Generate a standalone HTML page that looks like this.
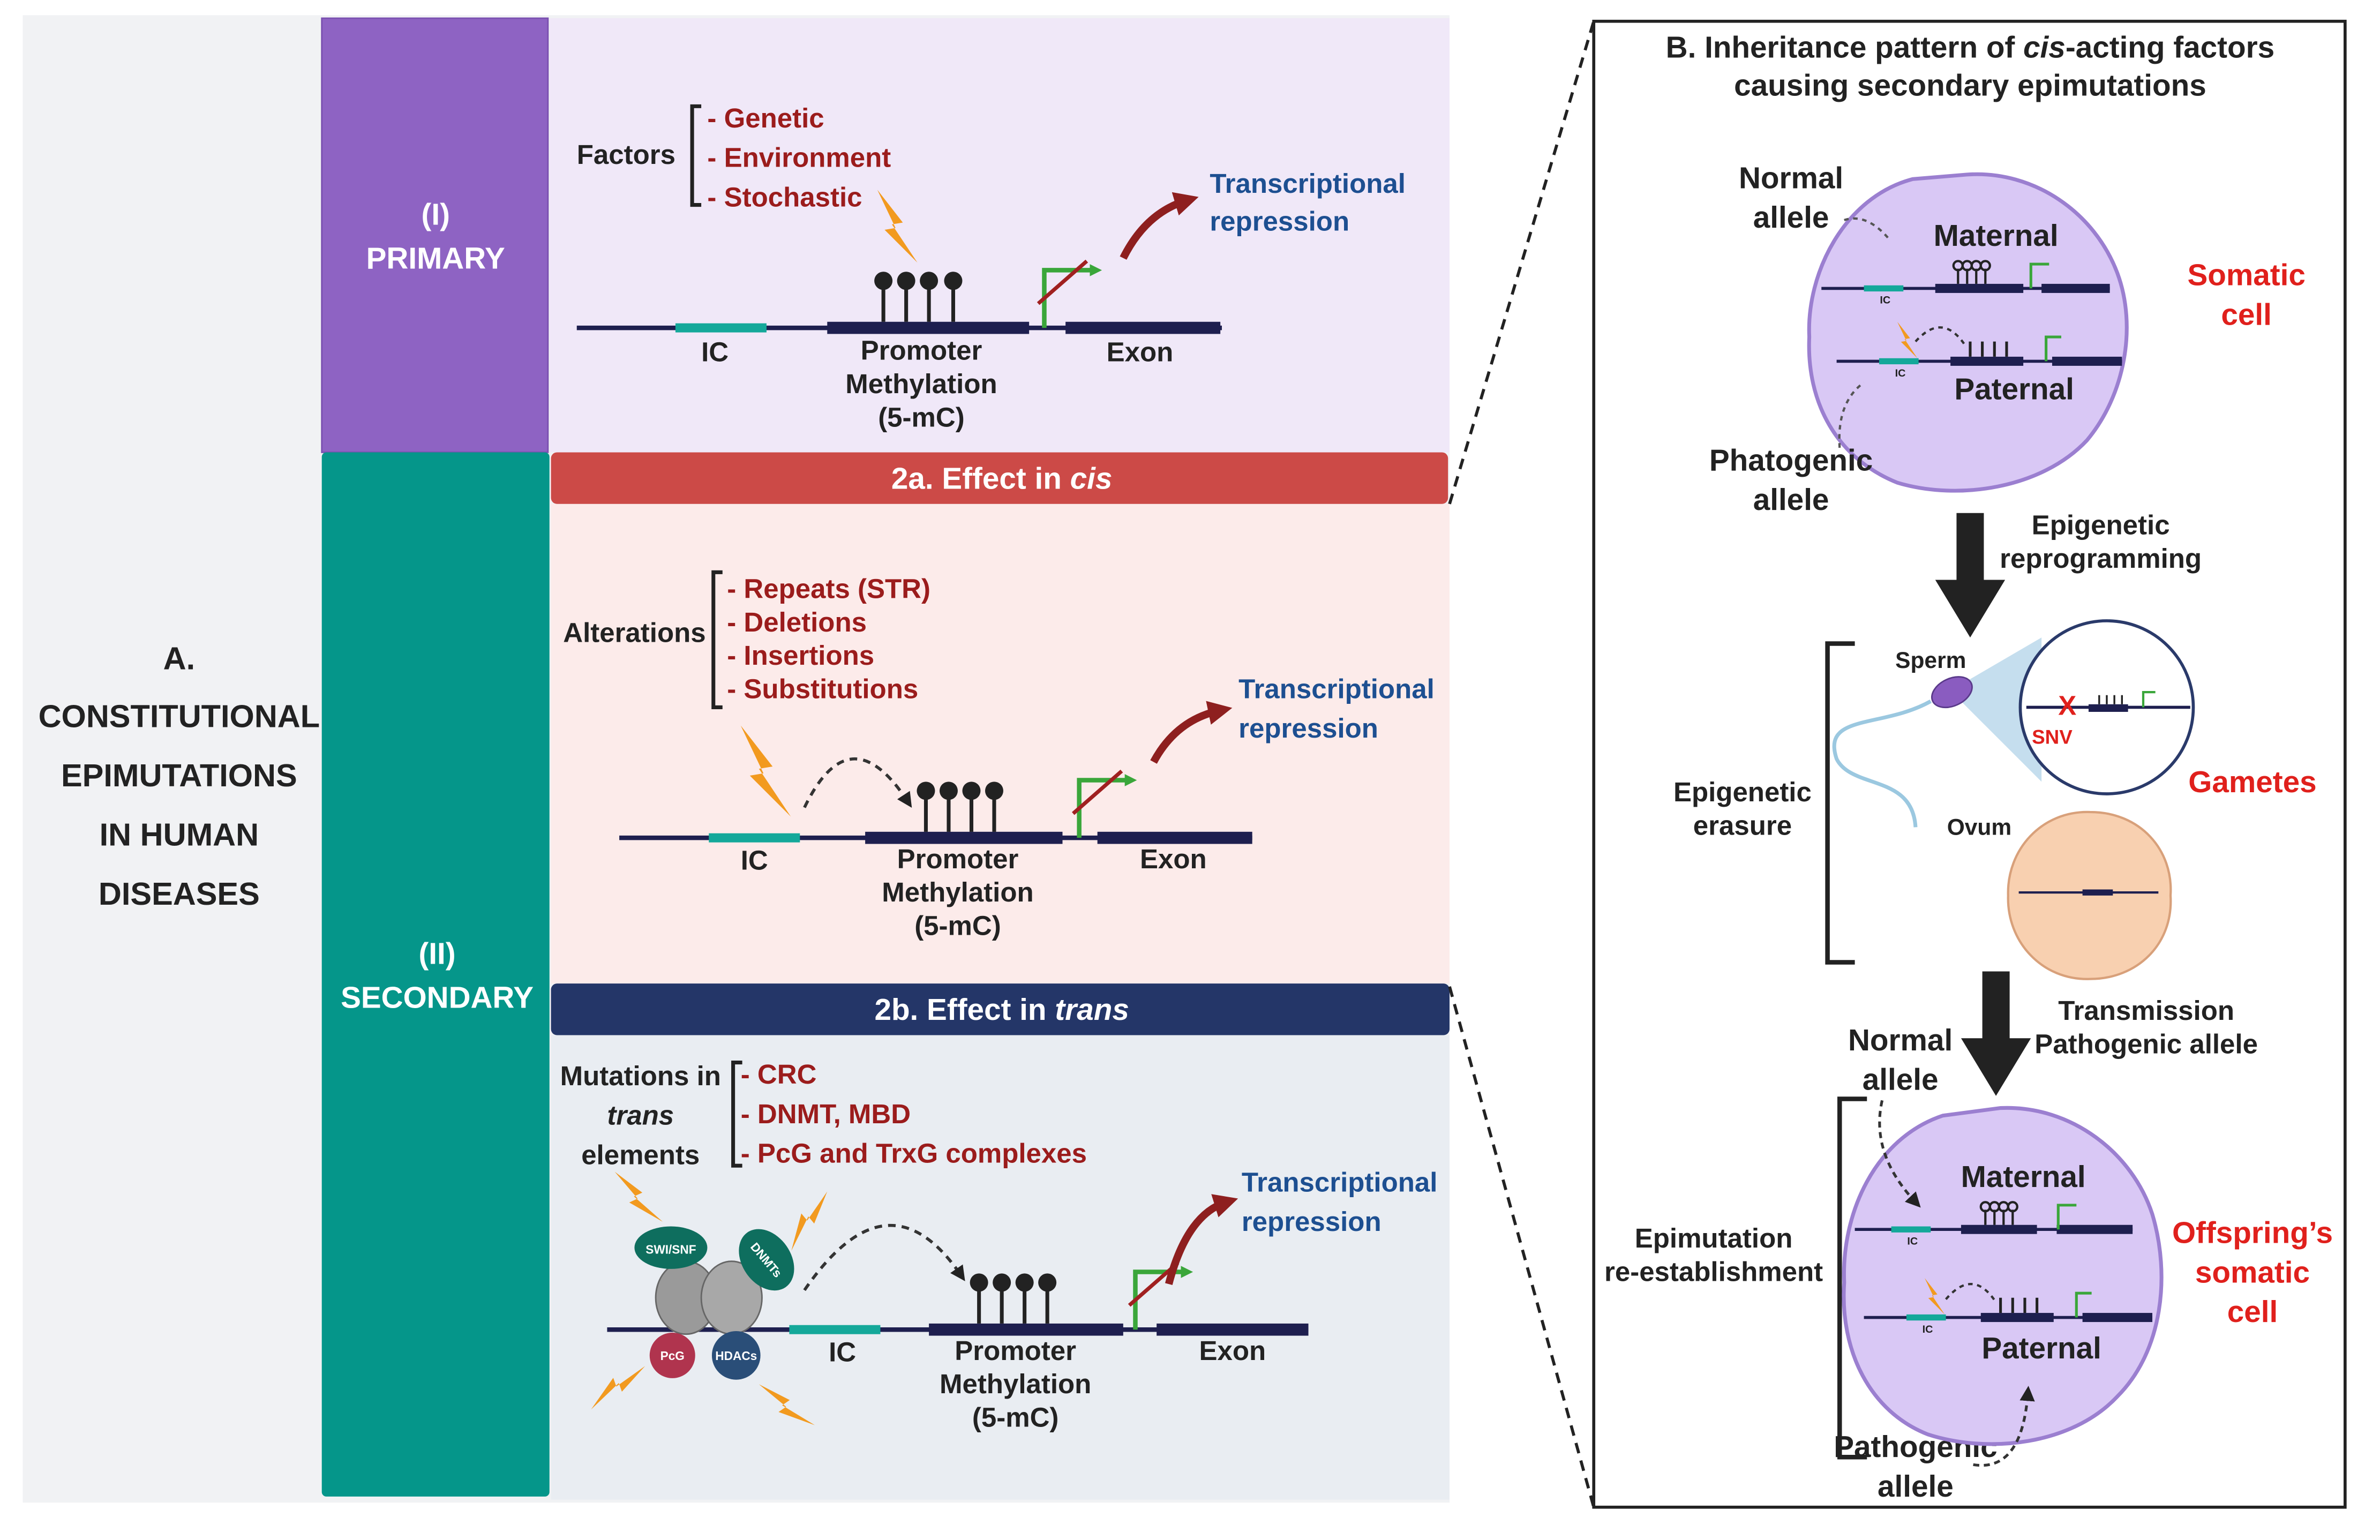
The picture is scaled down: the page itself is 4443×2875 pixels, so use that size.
<!DOCTYPE html>
<html><head><meta charset="utf-8"><style>
html,body{margin:0;padding:0;background:#fff;}
svg{display:block;}
text{font-family:"Liberation Sans",Arial,sans-serif;font-weight:bold;}
</style></head><body>
<svg width="4443" height="2875" viewBox="0 0 1568 1014.6" xmlns="http://www.w3.org/2000/svg">
<defs>
<marker id="ga" markerWidth="8" markerHeight="8" refX="4" refY="4" orient="auto" markerUnits="userSpaceOnUse"><path d="M0,0 L8,4 L0,8z" fill="#3aa63a"/></marker>
<marker id="ra" markerWidth="16" markerHeight="16" refX="8" refY="8" orient="auto" markerUnits="userSpaceOnUse"><path d="M0,0 L16,8 L0,16z" fill="#8e1f1f"/></marker>
<marker id="ka" markerWidth="10" markerHeight="10" refX="5" refY="5" orient="auto" markerUnits="userSpaceOnUse"><path d="M0,0 L10,5 L0,10z" fill="#222"/></marker>
<g id="bolt"><path d="M0,0 L14,18 L8,19 L22,40 L4,22 L10,21 Z" fill="#f29a1f"/></g>
<g id="lol"><line x1="0" y1="0" x2="0" y2="-24" stroke="#222" stroke-width="2.5"/><circle cx="0" cy="-27" r="6" fill="#222"/></g>
</defs>
<rect x="0" y="0" width="1570" height="1020" fill="#fff"/>
<rect x="15" y="10" width="940" height="980" fill="#f1f2f4"/>
<rect x="212" y="12" width="149" height="286" fill="#8e63c3" stroke="#7a50b0"/>
<rect x="212" y="298" width="150" height="688" fill="#05968a" rx="3"/>
<rect x="362" y="12" width="593" height="286" fill="#f0e8f8"/>
<rect x="363" y="332" width="592" height="316" fill="#fcebea"/>
<rect x="363" y="682" width="592" height="306" fill="#e9edf2"/>
<rect x="363" y="298" width="591" height="34" fill="#cc4a47" rx="4"/>
<rect x="363" y="648" width="592" height="34" fill="#243668" rx="4"/>
<text x="660" y="322" fill="#fff" font-size="20" text-anchor="middle">2a. Effect in <tspan font-style="italic">cis</tspan></text>
<text x="660" y="672" fill="#fff" font-size="20" text-anchor="middle">2b. Effect in <tspan font-style="italic">trans</tspan></text>
<g fill="#fff" font-size="20" text-anchor="middle">
<text x="287" y="148">(I)</text><text x="287" y="177">PRIMARY</text>
<text x="288" y="635">(II)</text><text x="288" y="664">SECONDARY</text>
</g>
<g fill="#222" font-size="21" text-anchor="middle">
<text x="118" y="441">A.</text><text x="118" y="479">CONSTITUTIONAL</text><text x="118" y="518">EPIMUTATIONS</text><text x="118" y="557">IN HUMAN</text><text x="118" y="596">DISEASES</text>
</g>
<text x="380" y="108" font-size="18" fill="#222">Factors</text>
<path d="M462,70 H456 V135 H462" fill="none" stroke="#222" stroke-width="2.5"/>
<g fill="#9b1c1c" font-size="18"><text x="466" y="84">- Genetic</text><text x="466" y="110">- Environment</text><text x="466" y="136">- Stochastic</text></g>
<use href="#bolt" transform="translate(578,125) scale(1.2)"/>
<line x1="380" y1="216" x2="805" y2="216" stroke="#1e1f4f" stroke-width="3"/>
<rect x="445" y="213" width="60" height="6" fill="#14a89a"/>
<rect x="545" y="212" width="133" height="8" fill="#1e1f4f"/>
<rect x="702" y="212" width="102" height="8" fill="#1e1f4f"/>
<use href="#lol" transform="translate(582,212)"/><use href="#lol" transform="translate(597,212)"/><use href="#lol" transform="translate(612,212)"/><use href="#lol" transform="translate(628,212)"/>
<path d="M688,216 V178 H722" fill="none" stroke="#3aa63a" stroke-width="3" marker-end="url(#ga)"/>
<line x1="684" y1="200" x2="716" y2="172" stroke="#a02020" stroke-width="2.5"/>
<path d="M740,170 Q755,140 782,132" fill="none" stroke="#8e1f1f" stroke-width="5" marker-end="url(#ra)"/>
<g fill="#1d4f91" font-size="18"><text x="797" y="127">Transcriptional</text><text x="797" y="152">repression</text></g>
<g fill="#222" font-size="18" text-anchor="middle"><text x="471" y="238">IC</text><text x="607" y="237">Promoter</text><text x="607" y="259">Methylation</text><text x="607" y="281">(5-mC)</text><text x="751" y="238">Exon</text></g>
<text x="371" y="423" font-size="18" fill="#222">Alterations</text>
<path d="M476,377 H470 V466 H476" fill="none" stroke="#222" stroke-width="2.5"/>
<g fill="#9b1c1c" font-size="18"><text x="479" y="394">- Repeats (STR)</text><text x="479" y="416">- Deletions</text><text x="479" y="438">- Insertions</text><text x="479" y="460">- Substitutions</text></g>
<use href="#bolt" transform="translate(488,478) scale(1.5)"/>
<path d="M530,532 Q560,470 598,528" fill="none" stroke="#333" stroke-width="2" stroke-dasharray="5,4" marker-end="url(#ka)"/>
<line x1="408" y1="552" x2="825" y2="552" stroke="#1e1f4f" stroke-width="3"/>
<rect x="467" y="549" width="60" height="6" fill="#14a89a"/>
<rect x="570" y="548" width="130" height="8" fill="#1e1f4f"/>
<rect x="723" y="548" width="102" height="8" fill="#1e1f4f"/>
<use href="#lol" transform="translate(610,548)"/><use href="#lol" transform="translate(625,548)"/><use href="#lol" transform="translate(640,548)"/><use href="#lol" transform="translate(655,548)"/>
<path d="M711,552 V514 H745" fill="none" stroke="#3aa63a" stroke-width="3" marker-end="url(#ga)"/>
<line x1="707" y1="536" x2="739" y2="508" stroke="#a02020" stroke-width="2.5"/>
<path d="M760,502 Q775,474 804,468" fill="none" stroke="#8e1f1f" stroke-width="5" marker-end="url(#ra)"/>
<g fill="#1d4f91" font-size="18"><text x="816" y="460">Transcriptional</text><text x="816" y="486">repression</text></g>
<g fill="#222" font-size="18" text-anchor="middle"><text x="497" y="573">IC</text><text x="631" y="572">Promoter</text><text x="631" y="594">Methylation</text><text x="631" y="616">(5-mC)</text><text x="773" y="572">Exon</text></g>
<g fill="#222" font-size="18" text-anchor="middle"><text x="422" y="715">Mutations in</text><text x="422" y="741" font-style="italic">trans</text><text x="422" y="767">elements</text></g>
<path d="M489,700 H483 V768 H489" fill="none" stroke="#222" stroke-width="2.5"/>
<g fill="#9b1c1c" font-size="18"><text x="488" y="714">- CRC</text><text x="488" y="740">- DNMT, MBD</text><text x="488" y="766">- PcG and TrxG complexes</text></g>
<path d="M530,850 Q585,770 633,840" fill="none" stroke="#333" stroke-width="2" stroke-dasharray="5,4" marker-end="url(#ka)"/>
<line x1="400" y1="876" x2="862" y2="876" stroke="#1e1f4f" stroke-width="3"/>
<rect x="520" y="873" width="60" height="6" fill="#14a89a"/>
<rect x="612" y="872" width="128" height="8" fill="#1e1f4f"/>
<rect x="762" y="872" width="100" height="8" fill="#1e1f4f"/>
<use href="#lol" transform="translate(645,872)"/><use href="#lol" transform="translate(660,872)"/><use href="#lol" transform="translate(675,872)"/><use href="#lol" transform="translate(690,872)"/>
<path d="M748,876 V838 H782" fill="none" stroke="#3aa63a" stroke-width="3" marker-end="url(#ga)"/>
<line x1="744" y1="860" x2="776" y2="832" stroke="#a02020" stroke-width="2.5"/>
<path d="M770,846 Q782,800 808,792" fill="none" stroke="#8e1f1f" stroke-width="5" marker-end="url(#ra)"/>
<g fill="#1d4f91" font-size="18"><text x="818" y="785">Transcriptional</text><text x="818" y="811">repression</text></g>
<g fill="#222" font-size="18" text-anchor="middle"><text x="555" y="897">IC</text><text x="669" y="896">Promoter</text><text x="669" y="918">Methylation</text><text x="669" y="940">(5-mC)</text><text x="812" y="896">Exon</text></g>
<ellipse cx="452" cy="855" rx="20" ry="24" fill="#9a9a9a" stroke="#666"/>
<ellipse cx="482" cy="855" rx="20" ry="24" fill="#a8a8a8" stroke="#666"/>
<ellipse cx="442" cy="822" rx="24" ry="14" fill="#0e6e5e"/>
<text x="442" y="826" fill="#fff" font-size="8" text-anchor="middle">SWI/SNF</text>
<ellipse cx="505" cy="830" rx="16" ry="22" fill="#0e6e5e" transform="rotate(-35 505 830)"/>
<text x="505" y="833" fill="#fff" font-size="8" text-anchor="middle" transform="rotate(50 505 830)">DNMTs</text>
<circle cx="443" cy="893" r="15" fill="#b0344e"/><text x="443" y="896" fill="#fff" font-size="8" text-anchor="middle">PcG</text>
<circle cx="485" cy="893" r="16" fill="#2a4e78"/><text x="485" y="896" fill="#fff" font-size="8" text-anchor="middle">HDACs</text>
<use href="#bolt" transform="translate(405,772) rotate(-15)"/>
<use href="#bolt" transform="translate(545,785) rotate(60)"/>
<use href="#bolt" transform="translate(425,900) rotate(80)"/>
<use href="#bolt" transform="translate(500,912) rotate(-25)"/>
<line x1="955" y1="332" x2="1050" y2="14" stroke="#222" stroke-width="2" stroke-dasharray="7,5"/>
<line x1="955" y1="650" x2="1050" y2="993" stroke="#222" stroke-width="2" stroke-dasharray="7,5"/>
<rect x="1050" y="14" width="495" height="979" fill="#fff" stroke="#222" stroke-width="2"/>
<g fill="#222" font-size="20" text-anchor="middle"><text x="1298" y="38">B. Inheritance pattern of <tspan font-style="italic">cis</tspan>-acting factors</text><text x="1298" y="63">causing secondary epimutations</text></g>
<path d="M1296,115 C1340,112 1380,140 1395,180 C1408,215 1400,260 1375,290 C1345,322 1290,330 1250,318 C1210,302 1190,265 1192,222 C1190,180 1215,130 1260,118 Z" fill="#d9c8f5" stroke="#9b7fd0" stroke-width="2.5"/>
<line x1="1200" y1="190" x2="1390" y2="190" stroke="#1e1f4f" stroke-width="2"/>
<rect x="1228" y="188" width="26" height="4" fill="#14a89a"/><rect x="1275" y="187" width="58" height="6" fill="#1e1f4f"/><rect x="1345" y="187" width="45" height="6" fill="#1e1f4f"/>
<g stroke="#222" stroke-width="1.5" fill="none"><path d="M1290,187v-10M1296,187v-10M1302,187v-10M1308,187v-10"/><circle cx="1290" cy="175" r="3"/><circle cx="1296" cy="175" r="3"/><circle cx="1302" cy="175" r="3"/><circle cx="1308" cy="175" r="3"/></g>
<path d="M1338,190 v-16 h12" stroke="#3aa63a" stroke-width="1.8" fill="none"/>
<line x1="1210" y1="238" x2="1398" y2="238" stroke="#1e1f4f" stroke-width="2"/>
<rect x="1238" y="236" width="26" height="4" fill="#14a89a"/><rect x="1285" y="235" width="48" height="6" fill="#1e1f4f"/><rect x="1352" y="235" width="46" height="6" fill="#1e1f4f"/>
<g stroke="#222" stroke-width="1.8"><path d="M1298,235v-10M1306,235v-10M1314,235v-10M1322,235v-10"/></g>
<path d="M1348,238 v-16 h10" stroke="#3aa63a" stroke-width="1.8" fill="none"/>
<use href="#bolt" transform="translate(1250,212) scale(0.6)"/>
<path d="M1262,225 Q1280,205 1295,228" fill="none" stroke="#333" stroke-width="1.5" stroke-dasharray="3,3"/>
<g font-size="7" fill="#222" text-anchor="middle"><text x="1242" y="200">IC</text><text x="1252" y="248">IC</text></g>
<g fill="#222" font-size="20" text-anchor="middle"><text x="1315" y="162">Maternal</text><text x="1327" y="263">Paternal</text><text x="1180" y="124">Normal</text><text x="1180" y="150">allele</text><text x="1180" y="310">Phatogenic</text><text x="1180" y="336">allele</text></g>
<path d="M1215,145 Q1230,140 1245,158" fill="none" stroke="#555" stroke-width="1.5" stroke-dasharray="3,3"/>
<path d="M1212,295 Q1210,265 1228,252" fill="none" stroke="#555" stroke-width="1.5" stroke-dasharray="3,3"/>
<g fill="#e0201c" font-size="20" text-anchor="middle"><text x="1480" y="188">Somatic</text><text x="1480" y="214">cell</text><text x="1484" y="522">Gametes</text><text x="1484" y="819">Offspring’s</text><text x="1484" y="845">somatic</text><text x="1484" y="871">cell</text></g>
<path d="M1289,338 h18 v44 h14 l-23,38 l-23,-38 h14z" fill="#222"/>
<g fill="#222" font-size="18" text-anchor="middle"><text x="1384" y="352">Epigenetic</text><text x="1384" y="374">reprogramming</text></g>
<path d="M1222,424 H1204 V634 H1222" fill="none" stroke="#222" stroke-width="3"/>
<g fill="#222" font-size="18" text-anchor="middle"><text x="1148" y="528">Epigenetic</text><text x="1148" y="550">erasure</text></g>
<path d="M1285,455 L1345,420 L1345,515 Z" fill="#b7d6ea" opacity="0.8"/>
<circle cx="1388" cy="466" r="57" fill="#fff" stroke="#2a3a6a" stroke-width="2"/>
<line x1="1335" y1="466" x2="1443" y2="466" stroke="#1e1f4f" stroke-width="2"/>
<rect x="1376" y="464" width="26" height="5" fill="#1e1f4f"/>
<g stroke="#222" stroke-width="1.2" fill="none"><path d="M1383,464v-6M1388,464v-6M1393,464v-6M1398,464v-6"/></g>
<path d="M1412,466 v-10 h8" stroke="#3aa63a" stroke-width="1.5" fill="none"/>
<text x="1362" y="471" fill="#e0201c" font-size="18" text-anchor="middle">X</text>
<text x="1352" y="490" fill="#e0201c" font-size="13" text-anchor="middle">SNV</text>
<ellipse cx="1286" cy="456" rx="14" ry="9" fill="#8a5cc0" stroke="#5a3a8a" transform="rotate(-25 1286 456)"/>
<path d="M1272,462 C1240,480 1200,470 1210,500 C1220,520 1260,510 1262,545" fill="none" stroke="#9bc8e0" stroke-width="2.5"/>
<g fill="#222" font-size="15" text-anchor="middle"><text x="1272" y="440">Sperm</text><text x="1304" y="550">Ovum</text></g>
<path d="M1377,535 C1410,535 1432,560 1430,590 C1432,622 1408,645 1377,645 C1345,646 1322,620 1323,590 C1322,560 1345,534 1377,535Z" fill="#f8d0b0" stroke="#d8a07a" stroke-width="1.5"/>
<line x1="1330" y1="588" x2="1422" y2="588" stroke="#1e1f4f" stroke-width="1.5"/>
<rect x="1372" y="586" width="20" height="4" fill="#1e1f4f"/>
<path d="M1306,640 h18 v44 h14 l-23,38 l-23,-38 h14z" fill="#222"/>
<g fill="#222" font-size="18" text-anchor="middle"><text x="1414" y="672">Transmission</text><text x="1414" y="694">Pathogenic allele</text></g>
<g fill="#222" font-size="20" text-anchor="middle"><text x="1252" y="692">Normal</text><text x="1252" y="718">allele</text><text x="1262" y="960">Pathogenic</text><text x="1262" y="986">allele</text></g>
<path d="M1230,724 H1212 V960 H1230" fill="none" stroke="#222" stroke-width="3"/>
<g fill="#222" font-size="18" text-anchor="middle"><text x="1129" y="822">Epimutation</text><text x="1129" y="844">re-establishment</text></g>
<path d="M1318,730 C1365,728 1405,760 1418,800 C1430,840 1425,890 1395,920 C1365,952 1310,958 1270,945 C1232,930 1212,890 1215,845 C1213,800 1235,750 1280,735 Z" fill="#d9c8f5" stroke="#9b7fd0" stroke-width="2.5"/>
<line x1="1222" y1="810" x2="1405" y2="810" stroke="#1e1f4f" stroke-width="2"/>
<rect x="1246" y="808" width="26" height="4" fill="#14a89a"/><rect x="1292" y="807" width="50" height="6" fill="#1e1f4f"/><rect x="1355" y="807" width="50" height="6" fill="#1e1f4f"/>
<g stroke="#222" stroke-width="1.5" fill="none"><path d="M1308,807v-10M1314,807v-10M1320,807v-10M1326,807v-10"/><circle cx="1308" cy="795" r="3"/><circle cx="1314" cy="795" r="3"/><circle cx="1320" cy="795" r="3"/><circle cx="1326" cy="795" r="3"/></g>
<path d="M1356,810 v-16 h12" stroke="#3aa63a" stroke-width="1.8" fill="none"/>
<line x1="1228" y1="868" x2="1418" y2="868" stroke="#1e1f4f" stroke-width="2"/>
<rect x="1256" y="866" width="26" height="4" fill="#14a89a"/><rect x="1305" y="865" width="48" height="6" fill="#1e1f4f"/><rect x="1372" y="865" width="46" height="6" fill="#1e1f4f"/>
<g stroke="#222" stroke-width="1.8"><path d="M1318,865v-10M1326,865v-10M1334,865v-10M1342,865v-10"/></g>
<path d="M1368,868 v-16 h10" stroke="#3aa63a" stroke-width="1.8" fill="none"/>
<use href="#bolt" transform="translate(1268,842) scale(0.6)"/>
<path d="M1282,856 Q1300,835 1315,858" fill="none" stroke="#333" stroke-width="1.5" stroke-dasharray="3,3"/>
<g font-size="7" fill="#222" text-anchor="middle"><text x="1260" y="820">IC</text><text x="1270" y="878">IC</text></g>
<g fill="#222" font-size="20" text-anchor="middle"><text x="1333" y="782">Maternal</text><text x="1345" y="895">Paternal</text></g>
<path d="M1240,725 Q1232,760 1262,792" fill="none" stroke="#333" stroke-width="1.8" stroke-dasharray="4,3" marker-end="url(#ka)"/>
<path d="M1300,965 Q1332,970 1336,918" fill="none" stroke="#333" stroke-width="1.8" stroke-dasharray="4,3" marker-end="url(#ka)"/>
</svg>
</body></html>
